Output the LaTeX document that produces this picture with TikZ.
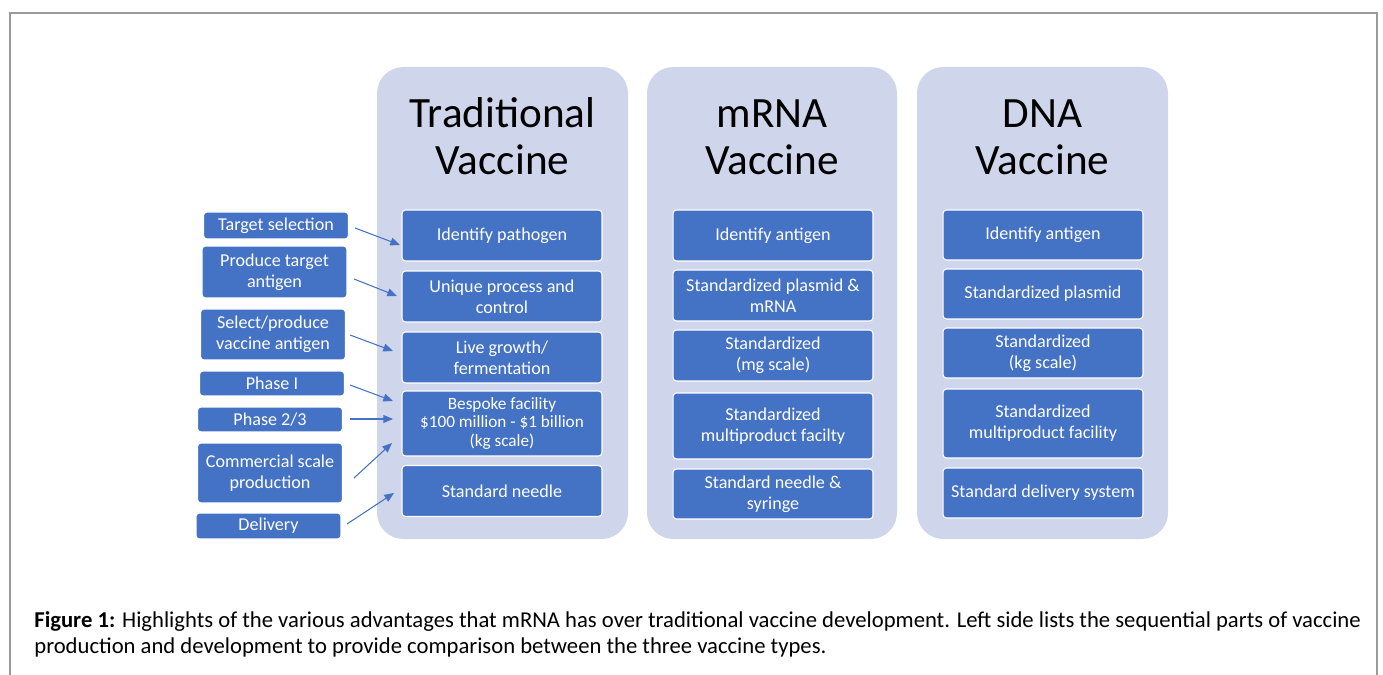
\documentclass[tikz,border=0pt]{standalone}
\usepackage{fontspec}
\setmainfont{Carlito}
\usetikzlibrary{arrows.meta, calc}
\definecolor{colbg}{HTML}{CFD5EA}
\definecolor{boxblue}{HTML}{4472C4}
\definecolor{framegray}{HTML}{9A9A9A}

\begin{document}
\begin{tikzpicture}[x=0.02cm, y=-0.02cm,
    panel/.style={fill=colbg, rounded corners=15pt},
    head/.style={font=\fontsize{24.6}{27.2}\selectfont, align=center, anchor=base},
    box/.style={draw=white, line width=0.6pt, fill=boxblue, rounded corners=2pt, text=white, align=center, inner sep=0pt, font=\fontsize{10.3}{11.8}\selectfont},
    cell/.style={box, minimum width=4cm, minimum height=1.02cm},
    stepbox/.style={box, minimum width=2.9cm},
    link/.style={draw=boxblue, line width=0.6pt, -{Triangle[length=5.5pt, width=4.5pt]}}]
\useasboundingbox (0,0) rectangle (1383,675);
\draw[framegray, line width=1.1pt] (10,675) -- (10,13) -- (1377,13) -- (1377,675);

\fill[panel] (377,67) rectangle (628,539);
\fill[panel] (647,67) rectangle (897,539);
\fill[panel] (917,67) rectangle (1168,539);

\node[head] (htrad) at (502.5,175) {Traditional\\Vaccine};
\node[head] (hmrna) at (772,175) {mRNA\\Vaccine};
\node[head] (hdna) at (1042.5,175) {DNA\\Vaccine};

\node[cell] (t1) at (502,235.5) {Identify pathogen};
\node[cell] (t2) at (502,296.5) {Unique process and\\control};
\node[cell] (t3) at (502,357.5) {Live growth/\\fermentation};
\node[cell, minimum height=1.3cm, font=\fontsize{9.8}{10.4}\selectfont] (t4) at (502,423.5) {Bespoke facility\\\$100 million - \$1 billion\\(kg scale)};
\node[cell] (t5) at (502,491) {Standard needle};

\node[cell] (m1) at (773,235.5) {Identify antigen};
\node[cell] (m2) at (773,295.5) {Standardized plasmid \&\\mRNA};
\node[cell] (m3) at (773,355.5) {Standardized\\(mg scale)};
\node[cell, minimum height=1.32cm] (m4) at (773,426) {Standardized\\multiproduct facilty};
\node[cell, minimum height=1cm] (m5) at (773,494) {Standard needle \&\\syringe};

\node[cell, minimum height=1cm] (d1) at (1043,235) {Identify antigen};
\node[cell, minimum height=1cm] (d2) at (1043,294) {Standardized plasmid};
\node[cell, minimum height=1cm] (d3) at (1043,353) {Standardized\\(kg scale)};
\node[cell, minimum height=1.38cm] (d4) at (1043,423.5) {Standardized\\multiproduct facility};
\node[cell, minimum height=1cm] (d5) at (1043,493) {Standard delivery system};

\node[stepbox, minimum height=0.54cm] (s1) at (276,225.5) {Target selection};
\node[stepbox, minimum height=1.04cm] (s2) at (274.5,272) {Produce target\\antigen};
\node[stepbox, minimum height=1.02cm] (s3) at (273,334.5) {Select/produce\\vaccine antigen};
\node[stepbox, minimum height=0.5cm] (s4) at (272,383.5) {Phase I};
\node[stepbox, minimum height=0.5cm] (s5) at (270,419.5) {Phase 2/3};
\node[stepbox, minimum height=1.2cm] (s6) at (270,473) {Commercial scale\\production};
\node[stepbox, minimum height=0.52cm] (s7) at (268.5,526) {Delivery};

\coordinate (a1) at (355,228); \coordinate (b1) at (400,245);
\coordinate (a2) at (354,279); \coordinate (b2) at (397,296);
\coordinate (a3) at (350,335); \coordinate (b3) at (393,351);
\coordinate (a4) at (350,385); \coordinate (b4) at (393,401);
\coordinate (a5) at (350,419); \coordinate (b5) at (393,419);
\coordinate (a6) at (354,478); \coordinate (b6) at (392,443);
\coordinate (a7) at (347,524); \coordinate (b7) at (394,493);
\foreach \i in {1,...,7}
  \draw[link] (a\i) -- (b\i);

\node[anchor=base west, align=left, inner sep=0pt, font=\fontsize{12.9}{14.6}\selectfont] (cap) at (34,653)
  {\textbf{Figure 1:} Highlights of the various advantages that mRNA has over traditional vaccine development. Left side lists the sequential parts of vaccine\\
   production and development to provide comparison between the three vaccine types.};
\end{tikzpicture}
\end{document}
